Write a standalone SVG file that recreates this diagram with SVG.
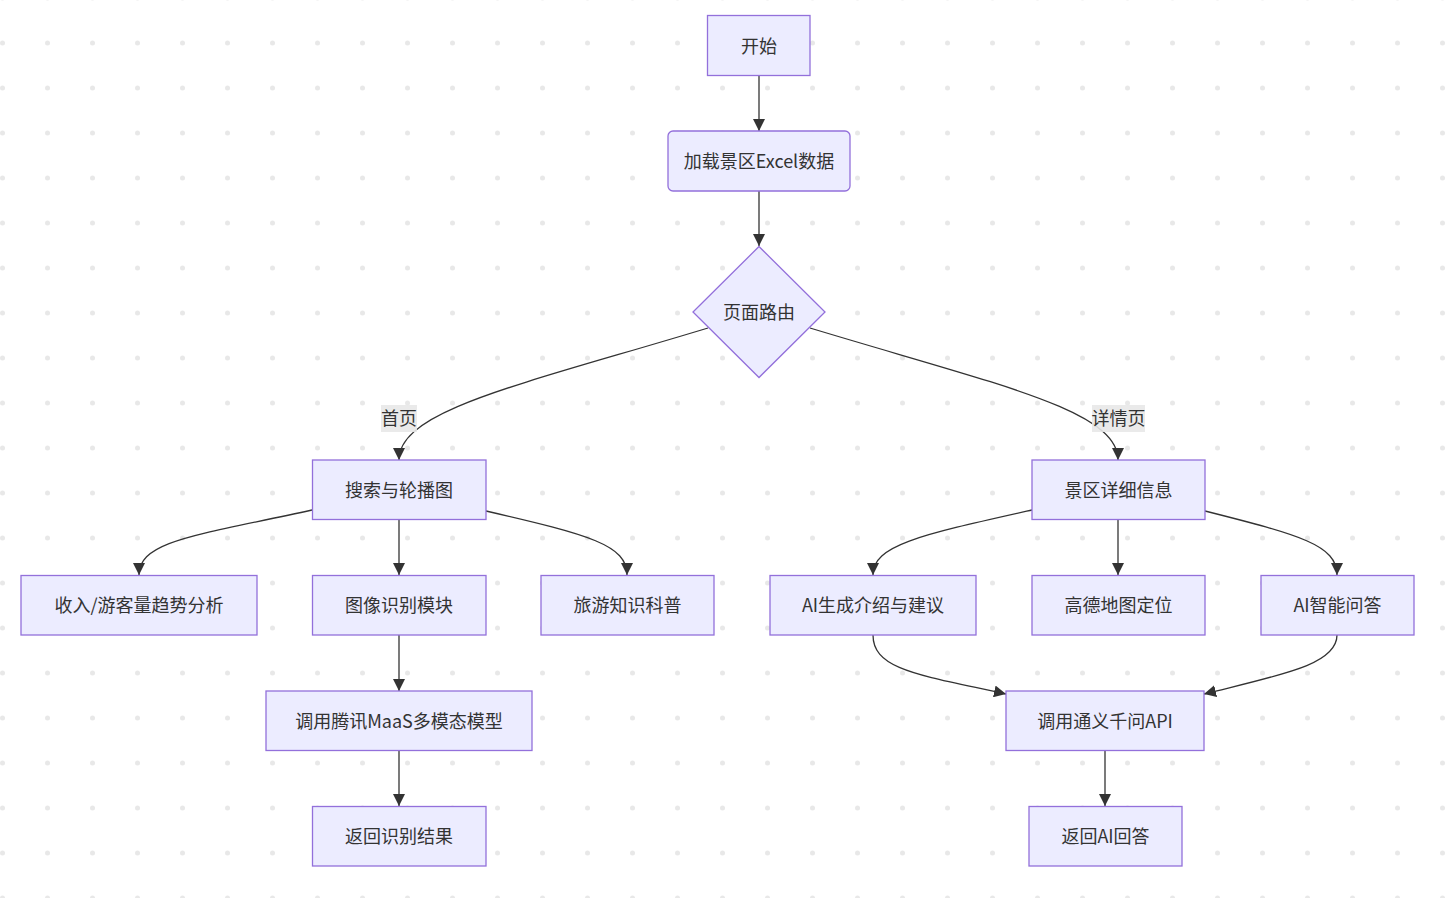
<svg xmlns="http://www.w3.org/2000/svg" width="1445" height="898" viewBox="0 0 1445 898">
<style>
.n rect, .n polygon { fill: #ECECFF; stroke: #9370DB; stroke-width: 1.3; }
.n text, .lbl text { font-family: "Noto Sans CJK SC", "Liberation Sans", sans-serif; font-size: 18px; fill: #333; text-anchor: middle; dominant-baseline: central; }
.e path { fill: none; stroke: #333; stroke-width: 1.3; marker-end: url(#arr); }
.lbl rect { fill: #e8e8e8; opacity: 0.9; }
</style>
<defs>
<pattern id="dots" x="-20" y="-20" width="45" height="45" patternUnits="userSpaceOnUse">
<circle cx="22.5" cy="18" r="2.5" fill="#e8e8e8"/>
</pattern>
<marker id="arr" markerUnits="userSpaceOnUse" markerWidth="12" markerHeight="12" refX="10" refY="5" orient="auto" viewBox="0 0 10 10">
<path d="M0,0 L10,5 L0,10 z" fill="#333"/>
</marker>
</defs>
<rect width="1445" height="898" fill="#fff"/>
<rect width="1445" height="898" fill="url(#dots)"/>

<g id="connectors" class="e">
<path d="M759,75.5 L759,131"/>
<path d="M759,191 L759,246"/>
<path d="M708,328 C520,385 399,410 399,460"/>
<path d="M810,328 C998,385 1118,410 1118,460"/>
<path d="M312,510 C200,535 139,540 139,575"/>
<path d="M399,519 L399,575"/>
<path d="M486,511 C590,535 627,545 627,575"/>
<path d="M1032,510 C920,535 873,545 873,575"/>
<path d="M1118,519 L1118,575"/>
<path d="M1205,511 C1300,535 1337,545 1337,575"/>
<path d="M399,635 L399,691"/>
<path d="M399,750 L399,806"/>
<path d="M873,635 C873,670 920,675 1006,694"/>
<path d="M1337,635 C1337,665 1280,675 1204,694"/>
<path d="M1105,750 L1105,806"/>
</g>

<g id="label-home" class="lbl"><rect x="381" y="405" width="36" height="27"/><text x="399" y="417">首页</text></g>
<g id="label-detail" class="lbl"><rect x="1092" y="405" width="53" height="27"/><text x="1118.5" y="417">详情页</text></g>

<g id="start" class="n"><rect x="707.5" y="15.5" width="102.5" height="60"/><text x="759" y="44.5">开始</text></g>
<g id="load" class="n"><rect x="668" y="131" width="182" height="60" rx="5"/><text x="759" y="160">加载景区Excel数据</text></g>
<g id="route" class="n"><polygon points="759,246.5 825,312 759,377.5 693,312"/><text x="759" y="311">页面路由</text></g>
<g id="search" class="n"><rect x="312.5" y="460" width="173.5" height="59.5"/><text x="399" y="488.5">搜索与轮播图</text></g>
<g id="detail" class="n"><rect x="1032" y="460" width="173" height="59.5"/><text x="1118.5" y="488.5">景区详细信息</text></g>
<g id="trend" class="n"><rect x="21" y="575.5" width="236" height="59.5"/><text x="139" y="604">收入/游客量趋势分析</text></g>
<g id="image" class="n"><rect x="312.5" y="575.5" width="173.5" height="59.5"/><text x="399" y="604">图像识别模块</text></g>
<g id="knowledge" class="n"><rect x="541" y="575.5" width="173" height="59.5"/><text x="627.5" y="604">旅游知识科普</text></g>
<g id="aigen" class="n"><rect x="770" y="575.5" width="206" height="59.5"/><text x="873" y="604">AI生成介绍与建议</text></g>
<g id="amap" class="n"><rect x="1032" y="575.5" width="173" height="59.5"/><text x="1118.5" y="604">高德地图定位</text></g>
<g id="aiqa" class="n"><rect x="1261" y="575.5" width="153" height="59.5"/><text x="1337.5" y="604">AI智能问答</text></g>
<g id="maas" class="n"><rect x="266" y="691" width="266" height="59.5"/><text x="399" y="719.5">调用腾讯MaaS多模态模型</text></g>
<g id="qwen" class="n"><rect x="1006" y="691" width="198" height="59.5"/><text x="1105" y="719.5">调用通义千问API</text></g>
<g id="result" class="n"><rect x="312.5" y="806.5" width="173.5" height="59.5"/><text x="399" y="835">返回识别结果</text></g>
<g id="answer" class="n"><rect x="1029" y="806.5" width="153" height="59.5"/><text x="1105.5" y="835">返回AI回答</text></g>
</svg>
